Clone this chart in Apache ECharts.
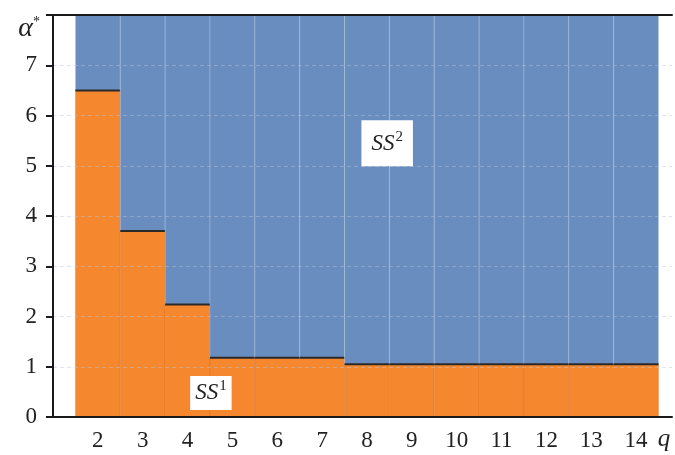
<!DOCTYPE html>
<html>
<head>
<meta charset="utf-8">
<script src="https://cdn.jsdelivr.net/npm/echarts@6/dist/echarts.min.js"></script>
<style>
  html, body { margin: 0; padding: 0; background: #ffffff; }
  #chart { width: 675px; height: 455px; }
</style>
</head>
<body>
<div id="chart"></div>
<script>
// ---- data ----
const categories = [2, 3, 4, 5, 6, 7, 8, 9, 10, 11, 12, 13, 14];
const ss1Boundary = [6.5, 3.7, 2.24, 1.18, 1.18, 1.18, 1.05, 1.05, 1.05, 1.05, 1.05, 1.05, 1.05];
const yTicks = [0, 1, 2, 3, 4, 5, 6, 7];
const yMax = 8;
const regionLabels = [
  { name: 'SS', sup: '1', x: 4.52, y: 0.48 },
  { name: 'SS', sup: '2', x: 8.45, y: 5.45 }
];

const ORANGE = '#F5872F';
const BLUE = '#6A8DC0';
const SERIF = 'Liberation Serif, Times New Roman, Times, serif';

const chart = echarts.init(document.getElementById('chart'));

function renderStep(params, api) {
  const x = api.value(0);
  const v = api.value(1);
  const bl = api.coord([x - 0.5, 0]);
  const br = api.coord([x + 0.5, 0]);
  const tl = api.coord([x - 0.5, yMax]);
  const ml = api.coord([x - 0.5, v]);
  const w = br[0] - bl[0];
  return {
    type: 'group',
    children: [
      {
        type: 'rect',
        shape: { x: tl[0], y: tl[1], width: w, height: ml[1] - tl[1] },
        style: { fill: BLUE, stroke: 'rgba(200,212,232,0.3)', lineWidth: 1 }
      },
      {
        type: 'rect',
        shape: { x: bl[0], y: ml[1], width: w, height: bl[1] - ml[1] },
        style: { fill: ORANGE, stroke: 'rgba(190,95,30,0.22)', lineWidth: 1 }
      },
      {
        type: 'line',
        shape: { x1: ml[0], y1: ml[1], x2: ml[0] + w, y2: ml[1] },
        style: { stroke: '#2a2a2a', lineWidth: 2 }
      }
    ]
  };
}

const option = {
  animation: false,
  backgroundColor: '#ffffff',
  grid: { left: 53, right: 0, top: 15, bottom: 38 },
  xAxis: [
    {
      type: 'value',
      min: 1,
      max: 14.8,
      interval: 1,
      position: 'bottom',
      axisLine: { show: true, lineStyle: { color: '#1a1a1a', width: 2 } },
      axisTick: { show: false },
      splitLine: { show: false },
      axisLabel: {
        margin: 12,
        color: '#222',
        fontFamily: SERIF,
        fontSize: 23,
        formatter: function (v) { return categories.indexOf(v) >= 0 ? String(v) : ''; }
      },
      name: 'q',
      nameLocation: 'end',
      nameGap: -8,
      nameTextStyle: {
        fontFamily: SERIF, fontStyle: 'italic', fontSize: 25, color: '#222',
        align: 'center', verticalAlign: 'top', padding: [10, 0, 0, 0]
      },
      z: 5
    },
    {
      type: 'value',
      min: 1,
      max: 14.8,
      position: 'top',
      axisLine: { show: true, lineStyle: { color: '#1a1a1a', width: 2 } },
      axisTick: { show: false },
      axisLabel: { show: false },
      splitLine: { show: false },
      z: 5
    }
  ],
  yAxis: {
    type: 'value',
    min: 0,
    max: yMax,
    interval: 1,
    axisLine: { show: true, lineStyle: { color: '#1a1a1a', width: 2 } },
    axisTick: { show: true, inside: false, length: 7, lineStyle: { color: '#1a1a1a', width: 2 } },
    axisLabel: {
      margin: 16,
      color: '#222',
      fontFamily: SERIF,
      fontSize: 23,
      formatter: function (v) { return yTicks.indexOf(v) >= 0 ? String(v) : ''; }
    },
    splitLine: { show: true, lineStyle: { color: 'rgba(185,198,218,0.45)', width: 1, type: [4, 3] } },
    name: '{a|α}{s|*}',
    nameLocation: 'end',
    nameGap: -14,
    nameTextStyle: {
      align: 'right', verticalAlign: 'middle', padding: [0, 13, 0, 0],
      rich: {
        a: { fontFamily: SERIF, fontStyle: 'italic', fontSize: 28, color: '#222' },
        s: { fontFamily: SERIF, fontSize: 14, color: '#222', verticalAlign: 'top', padding: [0, 0, 10, 0] }
      }
    },
    z: 5
  },
  series: [
    {
      type: 'custom',
      renderItem: renderStep,
      encode: { x: 0, y: 1 },
      data: categories.map(function (c, i) { return [c, ss1Boundary[i]]; }),
      z: 2
    },
    {
      type: 'scatter',
      symbolSize: 0,
      z: 10,
      itemStyle: { opacity: 1 },
      emphasis: { disabled: true },
      data: regionLabels.map(function (d, i) {
        return {
          value: [d.x, d.y],
          label: {
            show: true,
            position: 'inside',
            opacity: 1,
            formatter: '{s|' + d.name + '}{p|' + d.sup + '}',
            backgroundColor: '#ffffff',
            padding: i === 0 ? [3, 5, 2, 5] : [9, 10, 8, 10],
            rich: {
              s: { fontFamily: SERIF, fontStyle: 'italic', fontSize: 23, color: '#222' },
              p: { fontFamily: SERIF, fontSize: 15, color: '#222', verticalAlign: 'top', padding: [0, 0, 14, 1] }
            }
          }
        };
      })
    }
  ]
};

chart.setOption(option);
</script>
</body>
</html>
